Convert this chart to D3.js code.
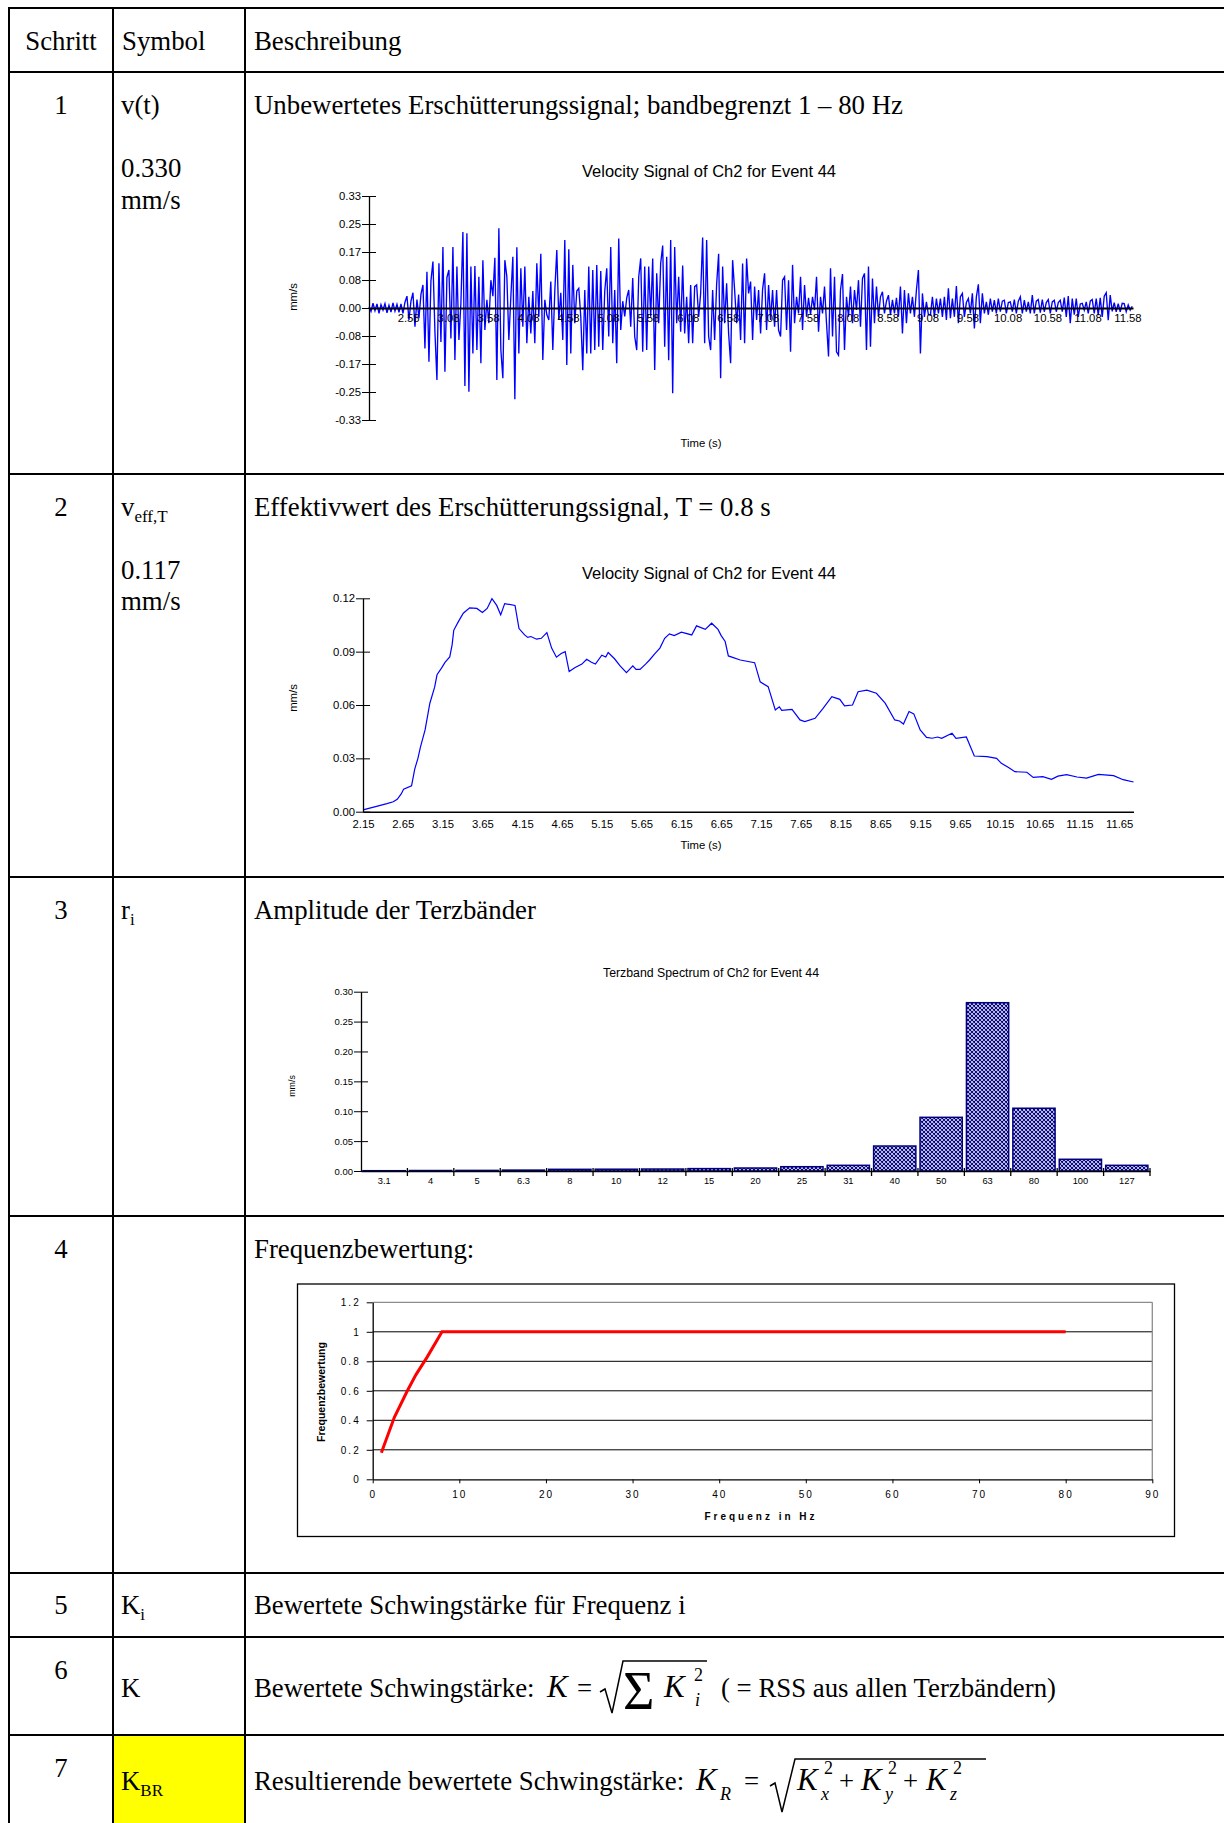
<!DOCTYPE html>
<html>
<head>
<meta charset="utf-8">
<script src="https://cdn.jsdelivr.net/npm/d3@7"></script>
<style>
  body { margin: 0; background: #fff; }
  svg { display: block; }
</style>
</head>
<body>
<svg id="page" width="1224" height="1823"></svg>
<script>
// ---------- data ----------
// Step 1: raw velocity signal (mm/s), sampled from sigStart every sigStep seconds
const sigStart = 2.09;
const sigStep = 0.025;
const sigVelocity = [
  0.004,-0.010,0.014,-0.008,0.012,-0.016,0.010,-0.006,0.013,-0.014,0.008,-0.012,0.015,-0.009,0.011,-0.013,0.012,-0.016,0.017,
  0.035,-0.035,0.020,0.045,-0.055,0.025,-0.030,0.040,0.068,-0.119,0.107,
  -0.158,0.080,0.137,-0.070,-0.212,0.132,-0.100,0.180,-0.188,0.090,
  0.112,-0.090,0.180,-0.153,0.122,-0.094,0.014,0.224,-0.230,0.220,
  -0.247,0.122,-0.134,0.124,-0.124,0.092,-0.163,0.141,-0.065,0.024,
  -0.045,0.082,0.035,0.148,-0.212,0.235,-0.124,-0.207,0.141,0.092,
  -0.094,0.033,0.151,-0.269,0.179,-0.134,0.117,-0.055,0.122,-0.104,
  0.033,-0.075,0.050,-0.104,0.132,-0.026,0.160,-0.153,0.024,-0.020,
  -0.035,0.078,-0.124,0.050,0.171,-0.035,0.045,-0.094,0.200,-0.168,
  0.173,-0.134,0.127,-0.045,0.050,0.058,-0.026,-0.183,0.053,-0.134,
  0.122,-0.134,0.112,-0.124,0.127,-0.114,0.109,-0.124,0.050,0.117,
  -0.084,0.180,-0.104,0.053,-0.163,0.205,-0.065,0.020,-0.025,0.030,
  0.053,-0.055,0.088,-0.084,-0.124,0.092,0.146,-0.129,0.122,-0.124,
  0.122,-0.026,0.146,-0.183,0.102,-0.045,0.132,0.184,-0.114,0.151,
  -0.154,0.200,-0.251,0.180,-0.045,0.092,-0.070,0.125,-0.075,0.033,
  -0.104,0.068,-0.104,0.063,0.068,-0.026,0.043,0.208,-0.104,0.200,
  -0.084,-0.124,0.053,-0.094,0.070,0.160,-0.207,0.122,-0.045,0.073,
  -0.075,-0.163,0.141,0.053,-0.045,0.040,-0.094,0.131,-0.104,0.146,
  0.043,0.078,-0.094,0.063,-0.035,0.053,-0.075,0.055,0.102,-0.065,
  0.068,-0.035,0.053,-0.055,0.053,-0.065,-0.084,0.082,0.092,-0.065,
  0.082,-0.129,0.127,-0.045,0.033,-0.016,0.092,-0.065,0.068,-0.026,
  0.030,-0.020,0.033,-0.006,0.092,-0.070,0.033,-0.016,0.063,-0.045,
  -0.143,0.117,-0.084,0.092,-0.129,-0.139,0.053,0.100,-0.124,0.033,
  -0.026,0.063,-0.045,0.053,-0.006,0.082,-0.055,0.087,0.102,-0.124,
  0.122,-0.114,0.087,-0.045,0.063,-0.026,0.033,0.048,-0.016,0.020,
  0.038,-0.021,0.024,-0.016,0.030,-0.026,0.063,-0.075,0.053,-0.045,
  0.043,-0.016,0.033,-0.026,0.053,0.112,-0.134,0.043,-0.026,0.018,
  -0.020,-0.021,0.033,-0.026,0.028,-0.016,0.028,-0.026,0.033,-0.035,
  0.058,-0.030,0.028,-0.026,0.065,-0.045,0.033,0.043,-0.026,0.016,
  0.028,-0.016,0.043,-0.060,0.033,0.070,-0.045,0.043,-0.016,0.018,
  -0.020,0.028,-0.011,0.023,-0.016,0.028,-0.011,0.020,0.023,-0.016,
  0.016,0.018,-0.011,0.025,-0.016,0.020,0.033,-0.016,0.023,-0.011,
  0.018,-0.016,0.038,-0.016,0.020,0.025,-0.014,0.025,-0.011,0.016,
  0.025,-0.016,0.018,0.023,-0.011,0.016,0.023,-0.011,0.031,-0.026,
  0.035,-0.045,0.028,-0.020,0.028,-0.026,0.012,0.014,-0.006,0.018,
  -0.016,0.020,0.025,-0.016,0.028,-0.021,0.030,-0.026,0.035,0.045,
  -0.036,0.038,-0.010,0.016,-0.011,0.013,-0.011,0.014,0.013,-0.011,
  0.009,-0.006,0.005
];
const sigTimeTicks = [2.58,3.08,3.58,4.08,4.58,5.08,5.58,6.08,6.58,7.08,7.58,8.08,8.58,9.08,9.58,10.08,10.58,11.08,11.58];
const sigValueTicks = [0.33,0.2475,0.165,0.0825,0,-0.0825,-0.165,-0.2475,-0.33];
const sigValueLabels = ["0.33","0.25","0.17","0.08","0.00","-0.08","-0.17","-0.25","-0.33"];

// Step 2: running RMS (T = 0.8 s), mm/s
const rmsTime = [2.15,2.32,2.45,2.53,2.58,2.63,2.66,2.76,2.80,2.84,2.87,2.93,2.99,3.05,3.08,3.14,3.18,3.24,3.27,3.29,
  3.35,3.41,3.49,3.58,3.65,3.71,3.77,3.83,3.88,3.93,4.06,4.11,4.18,4.22,4.26,4.33,4.39,4.46,4.52,4.58,
  4.64,4.69,4.74,4.81,4.90,4.96,5.02,5.07,5.15,5.20,5.23,5.31,5.38,5.46,5.54,5.58,5.63,5.70,5.75,5.82,
  5.88,5.94,6.00,6.06,6.15,6.28,6.34,6.45,6.53,6.61,6.65,6.70,6.74,6.89,7.07,7.14,7.24,7.33,7.38,7.41,
  7.54,7.64,7.70,7.83,7.93,8.04,8.14,8.20,8.30,8.37,8.48,8.60,8.71,8.83,8.89,8.94,9.01,9.07,9.15,9.23,
  9.30,9.37,9.42,9.55,9.60,9.73,9.83,9.99,10.11,10.17,10.26,10.34,10.49,10.57,10.69,10.80,10.88,10.99,11.12,11.24,
  11.39,11.58,11.70,11.83];
const rmsValue = [0.001,0.003,0.0045,0.0056,0.007,0.010,0.0126,0.0145,0.024,0.030,0.036,0.046,0.061,0.070,0.077,0.081,0.084,0.087,0.094,0.102,
  0.107,0.1116,0.1146,0.1143,0.112,0.1143,0.1198,0.116,0.1107,0.117,0.116,0.103,0.0994,0.098,0.0985,0.097,0.0975,0.1007,0.092,0.0869,
  0.089,0.090,0.0788,0.081,0.083,0.0857,0.084,0.083,0.088,0.087,0.0895,0.086,0.082,0.0782,0.082,0.080,0.080,0.083,0.0853,0.089,
  0.092,0.0975,0.100,0.099,0.101,0.0994,0.1045,0.1025,0.106,0.1025,0.099,0.0957,0.0876,0.0853,0.0838,0.073,0.0703,0.0572,0.059,0.057,
  0.0575,0.0516,0.0507,0.0525,0.0581,0.0647,0.0632,0.0595,0.060,0.0675,0.0684,0.0666,0.061,0.0516,0.051,0.0493,0.0563,0.055,0.046,0.0418,
  0.0413,0.042,0.0413,0.0441,0.0413,0.042,0.0313,0.031,0.030,0.0272,0.0248,0.0225,0.0222,0.0193,0.0197,0.0182,0.020,0.0208,0.0195,0.0189,
  0.021,0.0203,0.018,0.0167];
const rmsTimeTicks = [2.15,2.65,3.15,3.65,4.15,4.65,5.15,5.65,6.15,6.65,7.15,7.65,8.15,8.65,9.15,9.65,10.15,10.65,11.15,11.65];
const rmsValueTicks = [0,0.03,0.06,0.09,0.12];

// Step 3: third-octave band amplitudes, mm/s
const terzBands = ["3.1","4","5","6.3","8","10","12","15","20","25","31","40","50","63","80","100","127"];
const terzValues = [0.0005,0.0008,0.001,0.0015,0.0028,0.003,0.0033,0.004,0.005,0.0072,0.0095,0.0418,0.0898,0.2816,0.105,0.0196,0.0095];
const terzValueTicks = [0,0.05,0.10,0.15,0.20,0.25,0.30];

// Step 4: frequency weighting curve
const weightFreq = [1,2.5,4,5,6.3,8,80];
const weightValue = [0.18,0.42,0.6,0.71,0.83,1,1];
const weightFreqTicks = [0,10,20,30,40,50,60,70,80,90];
const weightValueTicks = [0,0.2,0.4,0.6,0.8,1,1.2];

// ---------- page ----------
const svg = d3.select("#page");
const SERIF = "'Liberation Serif', 'Times New Roman', serif";
const SANS = "'Liberation Sans', Arial, sans-serif";
const BODY = 26.8;
svg.append("rect").attr("width", 1224).attr("height", 1823).attr("fill", "#fff");

// table grid
const rowLines = [8, 72, 474, 877, 1216, 1573, 1637, 1735];
const colLines = [9, 113, 245];
svg.append("rect").attr("x", 113).attr("y", 1735).attr("width", 132).attr("height", 88).attr("fill", "#ffff00");
const grid = svg.append("g").attr("stroke", "#000").attr("stroke-width", 2);
rowLines.forEach(y => grid.append("line").attr("x1", 8).attr("x2", 1224).attr("y1", y).attr("y2", y));
colLines.forEach(x => grid.append("line").attr("x1", x).attr("x2", x).attr("y1", 7).attr("y2", 1823));

function serif(x, y, s, opt = {}) {
  const t = svg.append("text").attr("x", x).attr("y", y)
    .attr("font-family", SERIF).attr("font-size", opt.size || BODY).attr("fill", "#000");
  if (opt.anchor) t.attr("text-anchor", opt.anchor);
  if (opt.italic) t.attr("font-style", "italic");
  t.text(s);
  return t;
}
function withSub(x, y, main, sub, opt = {}) {
  const t = svg.append("text").attr("x", x).attr("y", y)
    .attr("font-family", SERIF).attr("font-size", BODY).attr("fill", "#000");
  t.append("tspan").text(main);
  t.append("tspan").attr("dy", opt.dy || 6).attr("font-size", opt.size || 17).text(sub);
  return t;
}

// header
serif(61, 50, "Schritt", { anchor: "middle" });
serif(122, 50, "Symbol");
serif(254, 50, "Beschreibung");

// step numbers
[[114, "1"], [516, "2"], [919, "3"], [1258, "4"], [1614, "5"], [1679, "6"], [1777, "7"]]
  .forEach(([y, s]) => serif(61, y, s, { anchor: "middle" }));

// symbols
serif(121, 114, "v(t)");
serif(121, 177, "0.330");
serif(121, 209, "mm/s");
withSub(121, 516, "v", "eff,T");
serif(121, 579, "0.117");
serif(121, 610, "mm/s");
withSub(121, 919, "r", "i");
withSub(121, 1614, "K", "i");
serif(121, 1697, "K");
withSub(121, 1790, "K", "BR");

// descriptions
serif(254, 114, "Unbewertetes Erschütterungssignal; bandbegrenzt 1 – 80 Hz");
serif(254, 516, "Effektivwert des Erschütterungssignal, T = 0.8 s");
serif(254, 919, "Amplitude der Terzbänder");
serif(254, 1258, "Frequenzbewertung:");
serif(254, 1614, "Bewertete Schwingstärke für Frequenz i");

// step 6 formula
serif(254, 1697, "Bewertete Schwingstärke:");
serif(547, 1697, "K", { italic: true, size: 31 });
serif(577, 1697, "=");
svg.append("path").attr("d", "M600,1692 L605,1689 L612,1713 L623,1661 L707,1661")
  .attr("fill", "none").attr("stroke", "#000").attr("stroke-width", 1.5);
serif(623, 1709, "Σ", { size: 54 });
serif(664, 1697, "K", { italic: true, size: 31 });
serif(694, 1681, "2", { size: 18 });
serif(695, 1706, "i", { size: 18, italic: true });
serif(721, 1697, "( = RSS aus allen Terzbändern)");

// step 7 formula
serif(254, 1790, "Resultierende bewertete Schwingstärke:");
serif(696, 1790, "K", { italic: true, size: 31 });
serif(720, 1800, "R", { italic: true, size: 18 });
serif(744, 1790, "=");
svg.append("path").attr("d", "M770,1786 L775,1783 L782,1812 L795,1759 L986,1759")
  .attr("fill", "none").attr("stroke", "#000").attr("stroke-width", 1.5);
[[797, "x"], [861, "y"], [926, "z"]].forEach(([x, s], i) => {
  serif(x, 1790, "K", { italic: true, size: 31 });
  serif(x + 27, 1774, "2", { size: 18 });
  serif(x + 24, 1800, s, { size: 18, italic: true });
  if (i < 2) serif(x + 42, 1790, "+");
});

// ---------- shared axis styling ----------
function styleAxis(g, fontSize) {
  g.select(".domain").attr("stroke", "#000").attr("stroke-width", 1.3);
  g.selectAll(".tick line").attr("stroke", "#000").attr("stroke-width", 1);
  g.selectAll(".tick text").attr("font-family", SANS).attr("font-size", fontSize).attr("fill", "#000");
}
function titleText(x, y, s, size) {
  svg.append("text").attr("x", x).attr("y", y).attr("text-anchor", "middle")
    .attr("font-family", SANS).attr("font-size", size).attr("fill", "#000").text(s);
}
function vLabel(x, y, s, size, weight) {
  svg.append("text").attr("transform", `translate(${x},${y}) rotate(-90)`)
    .attr("text-anchor", "middle").attr("dy", "0.35em")
    .attr("font-family", SANS).attr("font-size", size).attr("font-weight", weight || "normal")
    .attr("fill", "#000").text(s);
}

// ---------- chart 1: velocity signal ----------
{
  const x = d3.scaleLinear().domain([2.09, 11.65]).range([369, 1133]);
  const y = d3.scaleLinear().domain([-0.33, 0.33]).range([420, 196]);
  titleText(709, 177, "Velocity Signal of Ch2 for Event 44", 16.5);
  svg.append("path").datum(sigVelocity)
    .attr("d", d3.line().x((d, i) => x(sigStart + i * sigStep)).y(d => y(d)))
    .attr("fill", "none").attr("stroke", "#0000ff").attr("stroke-width", 1.35);
  const ay = svg.append("g").attr("transform", "translate(369,0)")
    .call(d3.axisLeft(y).tickValues(sigValueTicks).tickFormat((d, i) => sigValueLabels[i])
      .tickSize(7).tickSizeOuter(0).tickPadding(1));
  ay.selectAll(".tick").append("line").attr("x2", 7);
  styleAxis(ay, 11.3);
  const ax = svg.append("g").attr("transform", `translate(0,${y(0)})`)
    .call(d3.axisBottom(x).tickValues(sigTimeTicks).tickFormat(d3.format(".2f"))
      .tickSize(0).tickSizeOuter(0).tickPadding(6));
  styleAxis(ax, 11.3);
  ax.select(".domain").attr("stroke-width", 2);
  vLabel(293, 297, "mm/s", 11.3);
  titleText(701, 447, "Time (s)", 11.3);
}

// ---------- chart 2: running RMS ----------
{
  const x = d3.scaleLinear().domain([2.15, 11.83]).range([363, 1133.5]);
  const y = d3.scaleLinear().domain([0, 0.12]).range([811.7, 598.3]);
  titleText(709, 579, "Velocity Signal of Ch2 for Event 44", 16.5);
  svg.append("path").datum(rmsValue)
    .attr("d", d3.line().x((d, i) => x(rmsTime[i])).y(d => y(d)))
    .attr("fill", "none").attr("stroke", "#0000ff").attr("stroke-width", 1.2);
  const ay = svg.append("g").attr("transform", "translate(363,0)")
    .call(d3.axisLeft(y).tickValues(rmsValueTicks).tickFormat(d3.format(".2f"))
      .tickSize(7).tickSizeOuter(0).tickPadding(1));
  ay.selectAll(".tick").append("line").attr("x2", 7);
  styleAxis(ay, 11.3);
  const ax = svg.append("g").attr("transform", `translate(0,${y(0)})`)
    .call(d3.axisBottom(x).tickValues(rmsTimeTicks).tickFormat(d3.format(".2f"))
      .tickSize(0).tickSizeOuter(0).tickPadding(8));
  styleAxis(ax, 11.3);
  ax.select(".domain").attr("stroke-width", 1.6);
  vLabel(293, 698, "mm/s", 11.3);
  titleText(701, 849, "Time (s)", 11.3);
}

// ---------- chart 3: third-octave spectrum ----------
{
  const defs = svg.append("defs");
  const pat = defs.append("pattern").attr("id", "hatch").attr("patternUnits", "userSpaceOnUse")
    .attr("width", 4).attr("height", 4);
  pat.append("rect").attr("width", 4).attr("height", 4).attr("fill", "#fff");
  pat.append("path").attr("d", "M0,0 L4,4 M4,0 L0,4 M-1,1 L1,-1 M3,5 L5,3 M-1,3 L1,5 M3,-1 L5,1")
    .attr("stroke", "#000080").attr("stroke-width", 1.1);

  const x = d3.scaleBand().domain(terzBands).range([361, 1150]).paddingInner(0.09).paddingOuter(0.045);
  const y = d3.scaleLinear().domain([0, 0.30]).range([1171, 991.7]);
  titleText(711, 977, "Terzband Spectrum of Ch2 for Event 44", 12.3);
  svg.append("g").selectAll("rect").data(terzValues).join("rect")
    .attr("x", (d, i) => x(terzBands[i]))
    .attr("width", x.bandwidth())
    .attr("y", d => y(d))
    .attr("height", d => y(0) - y(d))
    .attr("fill", "url(#hatch)").attr("stroke", "#000080").attr("stroke-width", 1.5);
  const ay = svg.append("g").attr("transform", "translate(361,0)")
    .call(d3.axisLeft(y).tickValues(terzValueTicks).tickFormat(d3.format(".2f"))
      .tickSize(7).tickSizeOuter(0).tickPadding(1));
  ay.selectAll(".tick").append("line").attr("x2", 7);
  styleAxis(ay, 9.5);
  const ax = svg.append("g").attr("transform", `translate(0,${y(0)})`)
    .call(d3.axisBottom(x).tickSize(0).tickSizeOuter(0).tickPadding(6));
  styleAxis(ax, 9.3);
  // category separators on the band axis
  const step = x.step();
  const x0 = x.range()[0];
  svg.append("g").selectAll("line").data(terzBands).join("line")
    .attr("x1", (d, i) => x0 + (i + 1) * step).attr("x2", (d, i) => x0 + (i + 1) * step)
    .attr("y1", y(0) - 3).attr("y2", y(0) + 5).attr("stroke", "#000").attr("stroke-width", 1.3);
  vLabel(292, 1086, "mm/s", 8.9);
}

// ---------- chart 4: frequency weighting ----------
{
  svg.append("rect").attr("x", 297.5).attr("y", 1284).attr("width", 877).attr("height", 252.5)
    .attr("fill", "#fff").attr("stroke", "#000").attr("stroke-width", 1.3);
  const x = d3.scaleLinear().domain([0, 90]).range([372.7, 1152.3]);
  const y = d3.scaleLinear().domain([0, 1.2]).range([1479.3, 1302.3]);
  // gridlines
  svg.append("g").selectAll("line").data(weightValueTicks.filter(v => v > 0)).join("line")
    .attr("x1", x(0)).attr("x2", x(90)).attr("y1", d => y(d)).attr("y2", d => y(d))
    .attr("stroke", d => d > 1 ? "#8c8c8c" : "#000").attr("stroke-width", d => d > 1 ? 1.3 : 1);
  svg.append("line").attr("x1", x(90)).attr("x2", x(90)).attr("y1", y(1.2)).attr("y2", y(0))
    .attr("stroke", "#8c8c8c").attr("stroke-width", 1.3);
  // curve
  svg.append("path").datum(weightValue)
    .attr("d", d3.line().x((d, i) => x(weightFreq[i])).y(d => y(d)))
    .attr("fill", "none").attr("stroke", "#ff0000").attr("stroke-width", 3);
  const ay = svg.append("g").attr("transform", `translate(${x(0)},0)`)
    .call(d3.axisLeft(y).tickValues(weightValueTicks).tickFormat(d3.format("~g"))
      .tickSize(6).tickSizeOuter(0).tickPadding(6));
  styleAxis(ay, 10);
  ay.selectAll(".tick text").attr("letter-spacing", 2);
  const ax = svg.append("g").attr("transform", `translate(0,${y(0)})`)
    .call(d3.axisBottom(x).tickValues(weightFreqTicks).tickFormat(d3.format("d"))
      .tickSize(4).tickSizeOuter(0).tickPadding(8));
  styleAxis(ax, 10);
  ax.selectAll(".tick text").attr("letter-spacing", 2);
  svg.append("text").attr("x", 761).attr("y", 1520).attr("text-anchor", "middle")
    .attr("font-family", SANS).attr("font-size", 10).attr("font-weight", "bold")
    .attr("letter-spacing", 3).attr("fill", "#000").text("Frequenz in Hz");
  vLabel(321, 1392, "Frequenzbewertung", 10.5, "bold");
}
</script>
</body>
</html>
